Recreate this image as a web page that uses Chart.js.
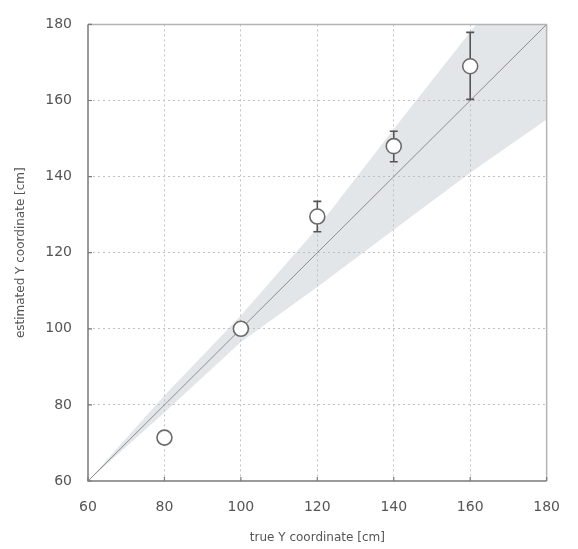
<!DOCTYPE html>
<html>
<head>
<meta charset="utf-8">
<script src="https://cdn.jsdelivr.net/npm/chart.js@4/dist/chart.umd.min.js"></script>
<style>
  html, body { margin: 0; padding: 0; background: #ffffff; }
  #wrap { width: 578px; height: 549px; }
</style>
</head>
<body>
<div id="wrap"><canvas id="c" width="578" height="549"></canvas></div>
<script>
// ---- data ----
const trueY      = [80, 100, 120, 140, 160];
const estimatedY = [71.4, 100, 129.5, 148.0, 169.0];
const errMinus   = [0, 0, 4.0, 4.1, 8.7];
const errPlus    = [0, 0, 4.0, 3.9, 8.9];

const bandX      = [60, 80, 100, 120, 140, 160, 180];
const bandUpper  = [60, 82.5, 103.5, 126.5, 152.5, 178, 203];
const bandLower  = [60, 78, 96.5, 111, 126, 141, 155];

const identityX  = [60, 180];
const identityY  = [60, 180];

const axisTicks  = [60, 80, 100, 120, 140, 160, 180];
const xTitle = 'true Y coordinate [cm]';
const yTitle = 'estimated Y coordinate [cm]';

const FONT = "'DejaVu Sans', 'Liberation Sans', sans-serif";
const TEXT = '#555555';

const toXY = (xs, ys) => xs.map((x, i) => ({ x: x, y: ys[i] }));

const errorBars = {
  id: 'errorBars',
  beforeDatasetDraw(chart, args) {
    if (args.index !== 3) return;
    const ctx = chart.ctx, xs = chart.scales.x, ys = chart.scales.y;
    ctx.save();
    ctx.strokeStyle = '#555555';
    ctx.lineWidth = 1.6;
    trueY.forEach((t, i) => {
      if (!errMinus[i] && !errPlus[i]) return;
      const px = xs.getPixelForValue(t);
      const top = ys.getPixelForValue(estimatedY[i] + errPlus[i]);
      const bot = ys.getPixelForValue(estimatedY[i] - errMinus[i]);
      ctx.beginPath();
      ctx.moveTo(px, top); ctx.lineTo(px, bot);
      ctx.moveTo(px - 4, top); ctx.lineTo(px + 4, top);
      ctx.moveTo(px - 4, bot); ctx.lineTo(px + 4, bot);
      ctx.stroke();
    });
    ctx.restore();
  }
};

const frame = {
  id: 'frame',
  afterDatasetsDraw(chart) {
    const { ctx, chartArea: a } = chart;
    ctx.save();
    ctx.lineWidth = 1.5;
    ctx.strokeStyle = '#b4b4b4';
    ctx.beginPath();
    ctx.moveTo(a.left, a.top); ctx.lineTo(a.right, a.top); ctx.lineTo(a.right, a.bottom);
    ctx.stroke();
    ctx.strokeStyle = '#7a7a7a';
    ctx.beginPath();
    ctx.moveTo(a.left, a.top); ctx.lineTo(a.left, a.bottom); ctx.lineTo(a.right, a.bottom);
    ctx.stroke();
    ctx.lineWidth = 1.2;
    axisTicks.forEach(v => {
      const px = chart.scales.x.getPixelForValue(v);
      const py = chart.scales.y.getPixelForValue(v);
      ctx.beginPath();
      ctx.moveTo(px, a.bottom); ctx.lineTo(px, a.bottom - 4);
      ctx.moveTo(a.left, py); ctx.lineTo(a.left + 4, py);
      ctx.stroke();
    });
    ctx.restore();
  }
};

const gridColor = (c) => (c.tick && (c.tick.value === 60 || c.tick.value === 180)) ? 'rgba(0,0,0,0)' : '#c2c2c2';

new Chart(document.getElementById('c'), {
  type: 'scatter',
  data: {
    datasets: [
      {
        type: 'line', label: 'upper', order: 5,
        data: toXY(bandX, bandUpper),
        borderWidth: 0, pointRadius: 0, borderColor: 'rgba(0,0,0,0)',
        backgroundColor: 'rgba(186,192,200,0.4)', fill: '+1', tension: 0
      },
      {
        type: 'line', label: 'lower', order: 4,
        data: toXY(bandX, bandLower),
        borderWidth: 0, pointRadius: 0, borderColor: 'rgba(0,0,0,0)',
        fill: false, tension: 0
      },
      {
        type: 'line', label: 'identity', order: 2,
        data: toXY(identityX, identityY),
        borderColor: '#8c8c8c', borderWidth: 1, pointRadius: 0, fill: false
      },
      {
        type: 'scatter', label: 'estimate', order: 0,
        data: toXY(trueY, estimatedY),
        pointRadius: 7.5, pointHoverRadius: 7.5,
        pointBackgroundColor: '#ffffff', pointBorderColor: '#6a6a6a', pointBorderWidth: 1.6,
        clip: false
      }
    ]
  },
  options: {
    responsive: false,
    animation: false,
    events: [],
    layout: { padding: { top: 15, right: 12, left: 0, bottom: 0 } },
    plugins: { legend: { display: false }, tooltip: { enabled: false } },
    scales: {
      x: {
        type: 'linear', min: 60, max: 180,
        afterBuildTicks: (s) => { s.ticks = axisTicks.map(v => ({ value: v })); },
        afterFit: (s) => { s.height = 68; },
        border: { display: false, dash: [2, 3] },
        grid: { color: gridColor, lineWidth: 1, drawTicks: false },
        ticks: { color: TEXT, font: { family: FONT, size: 14 }, padding: 18 },
        title: { display: true, text: xTitle, color: TEXT, font: { family: FONT, size: 12 }, padding: { top: 10 } }
      },
      y: {
        type: 'linear', min: 60, max: 180,
        afterBuildTicks: (s) => { s.ticks = axisTicks.map(v => ({ value: v })); },
        afterFit: (s) => { s.width = 88; },
        border: { display: false, dash: [2, 3] },
        grid: { color: gridColor, lineWidth: 1, drawTicks: false },
        ticks: { color: TEXT, font: { family: FONT, size: 14 }, padding: 16 },
        title: { display: true, text: yTitle, color: TEXT, font: { family: FONT, size: 12 }, padding: { top: 14, bottom: 4 } }
      }
    }
  },
  plugins: [errorBars, frame]
});
</script>
</body>
</html>
